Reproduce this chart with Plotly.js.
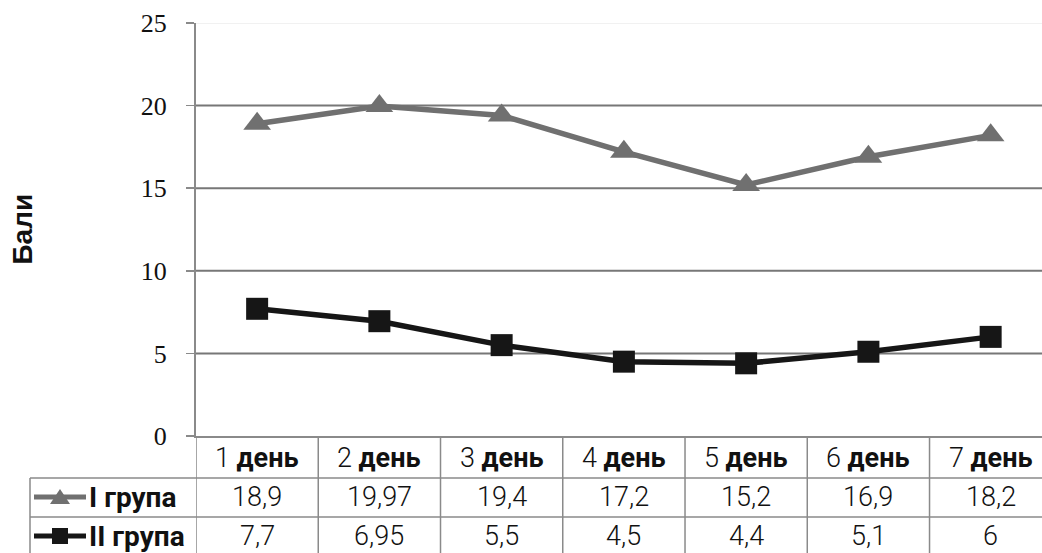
<!DOCTYPE html>
<html>
<head>
<meta charset="utf-8">
<script src="https://cdn.plot.ly/plotly-3.0.1.min.js"></script>
<style>html,body{margin:0;padding:0;background:#fff;}#chart{width:1042px;height:553px;}</style>
</head>
<body>
<div id="chart"></div>
<script>
const dayNumbers = ['1', '2', '3', '4', '5', '6', '7'];
const dayWord = 'день';
const categories = dayNumbers.map(d => d + ' ' + dayWord);
const seriesNames = ['I група', 'II група'];
const group1 = [18.9, 19.97, 19.4, 17.2, 15.2, 16.9, 18.2];
const group2 = [7.7, 6.95, 5.5, 4.5, 4.4, 5.1, 6];
const yTicks = [0, 5, 10, 15, 20, 25];
const yTitle = 'Бали';

const W = 1042, H = 553, ML = 196, MT = 23, MB = 117;
const plotW = W - ML, plotH = H - MT - MB;
const px = p => (p - ML) / plotW;          // pixel x -> paper x
const py = p => (H - MB - p) / plotH;      // pixel y -> paper y

const gray = '#707070', black = '#161616', lineC = '#8a8a8a';
const fmt = v => String(v).replace('.', ',');
const tableFont = {family: 'Roboto, Arial, sans-serif', size: 27, color: '#111', weight: 300};

const traces = [
  {x: categories, y: group1, type: 'scatter', mode: 'lines+markers', name: seriesNames[0],
   line: {color: gray, width: 5.5}, marker: {symbol: 'triangle-up', size: 24, color: gray}},
  {x: categories, y: group2, type: 'scatter', mode: 'lines+markers', name: seriesNames[1],
   line: {color: black, width: 5.5}, marker: {symbol: 'square', size: 22, color: black}}
];

const shapes = [];
const annotations = [];
// grid lines
yTicks.forEach(t => {
  if (t === 0) return;
  shapes.push({type: 'line', xref: 'paper', yref: 'y', x0: 0, x1: 1, y0: t, y1: t,
    line: {color: t === 25 ? '#ececec' : '#777777', width: t === 25 ? 1.5 : 2}, layer: 'below'});
});
// table verticals
for (let i = 0; i <= categories.length; i++) {
  shapes.push({type: 'line', xref: 'x', yref: 'paper', x0: i - 0.5, x1: i - 0.5, y0: 0, y1: py(H),
    line: {color: lineC, width: 1.5}});
}
// table horizontals
[478, 517].forEach(r => shapes.push({type: 'line', xref: 'paper', yref: 'paper', x0: px(30), x1: 1, y0: py(r), y1: py(r),
  line: {color: lineC, width: 1.5}}));
shapes.push({type: 'line', xref: 'paper', yref: 'paper', x0: px(30), x1: px(30), y0: py(478), y1: py(H),
  line: {color: lineC, width: 1.5}});

// header
categories.forEach((c, i) => {
  annotations.push({xref: 'x', yref: 'paper', x: i, y: py(458), text: dayNumbers[i] + ' <b>' + dayWord + '</b>',
    showarrow: false, font: tableFont, xanchor: 'center', yanchor: 'middle'});
});
// rows
[[group1, 497], [group2, 536]].forEach(([vals, rowY]) => {
  vals.forEach((v, i) => annotations.push({xref: 'x', yref: 'paper', x: i, y: py(rowY), text: fmt(v),
    showarrow: false, font: tableFont, xanchor: 'center', yanchor: 'middle'}));
});
// legend keys
const keyRows = [[497, gray, 'M-10,-7 L10,-7 L0,8 Z'], [536, black, 'M-8,-8 L8,-8 L8,8 L-8,8 Z']];
keyRows.forEach(([rowY, col, path], k) => {
  shapes.push({type: 'line', xref: 'paper', yref: 'paper', x0: px(34), x1: px(86), y0: py(rowY), y1: py(rowY),
    line: {color: col, width: 5}});
  shapes.push({type: 'path', xref: 'paper', yref: 'paper', xsizemode: 'pixel', ysizemode: 'pixel',
    xanchor: px(60), yanchor: py(rowY), path: path, fillcolor: col, line: {width: 0}});
  annotations.push({xref: 'paper', yref: 'paper', x: px(87), y: py(rowY), text: '<b>' + seriesNames[k] + '</b>',
    showarrow: false, font: {family: 'Roboto, Arial, sans-serif', size: 28, color: '#111'}, xanchor: 'left', yanchor: 'middle'});
});
// y title
annotations.push({xref: 'paper', yref: 'paper', x: px(22), y: 0.5, text: '<b>' + yTitle + '</b>', textangle: -90,
  showarrow: false, font: {family: 'Liberation Sans, Arial, sans-serif', size: 28, color: '#111'}, xanchor: 'center', yanchor: 'middle'});

const layout = {
  width: W, height: H,
  margin: {l: ML, r: 0, t: MT, b: MB, pad: 0},
  paper_bgcolor: '#fff', plot_bgcolor: '#fff',
  showlegend: false,
  xaxis: {type: 'category', range: [-0.5, 6.42], showticklabels: false, ticks: '', showgrid: false,
    zeroline: false, showline: true, linecolor: lineC, linewidth: 2},
  yaxis: {range: [0, 25], tickvals: yTicks, ticks: 'outside', ticklen: 8, tickwidth: 1.5, tickcolor: lineC,
    showgrid: false, zeroline: false, showline: true, linecolor: lineC, linewidth: 2,
    ticklabelstandoff: 14,
    tickfont: {family: 'Liberation Serif, Times New Roman, serif', size: 26, color: '#111'}},
  shapes: shapes,
  annotations: annotations
};
Plotly.newPlot('chart', traces, layout, {staticPlot: true, displayModeBar: false});
</script>
</body>
</html>
